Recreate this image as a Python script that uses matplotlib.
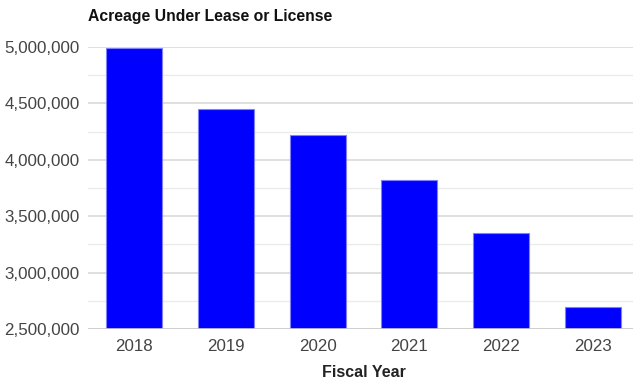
import matplotlib
matplotlib.use("Agg")
import matplotlib.pyplot as plt
from matplotlib.ticker import FuncFormatter, MultipleLocator

years = ["2018", "2019", "2020", "2021", "2022", "2023"]
acreage = [4995000, 4447000, 4217000, 3821000, 3353000, 2698000]

plt.rcParams["font.family"] = ["Liberation Sans", "DejaVu Sans"]

fig = plt.figure(figsize=(6.33, 3.81), dpi=100)
ax = fig.add_axes([88 / 633, 1 - 329 / 381, 551 / 633, (329 - 47) / 381])

x = range(len(years))
ax.bar(x, acreage, width=0.61, color="#0000ff", edgecolor="#8080ff",
       linewidth=0.8, zorder=3)

ax.set_xlim(-0.5, len(years) - 0.5)
ax.set_ylim(2500000, 5000000)
ax.yaxis.set_major_locator(MultipleLocator(500000))
ax.yaxis.set_minor_locator(MultipleLocator(250000))
ax.yaxis.set_major_formatter(FuncFormatter(lambda v, p: f"{int(v):,}"))
ax.grid(axis="y", which="major", color="#d9d9d9", linewidth=1.2, zorder=0)
ax.grid(axis="y", which="minor", color="#ebebeb", linewidth=1.0, zorder=0)
ax.axhline(2500000, color="#cccccc", linewidth=1.2, zorder=4)

ax.set_xticks(list(x))
ax.set_xticklabels(years)
ax.tick_params(axis="both", which="both", length=0, labelsize=12.2,
               labelcolor="#444444")
ax.tick_params(axis="y", pad=6)
ax.tick_params(axis="x", pad=7)

for s in ax.spines.values():
    s.set_visible(False)

ax.set_xlabel("Fiscal Year", fontsize=11.5, fontweight="bold", color="#222222",
              labelpad=8)
fig.text(88 / 633, 1 - 17 / 381, "Acreage Under Lease or License",
         fontsize=11.3, fontweight="bold", color="#111111", va="center",
         ha="left")

fig.savefig("out.png", dpi=100)
